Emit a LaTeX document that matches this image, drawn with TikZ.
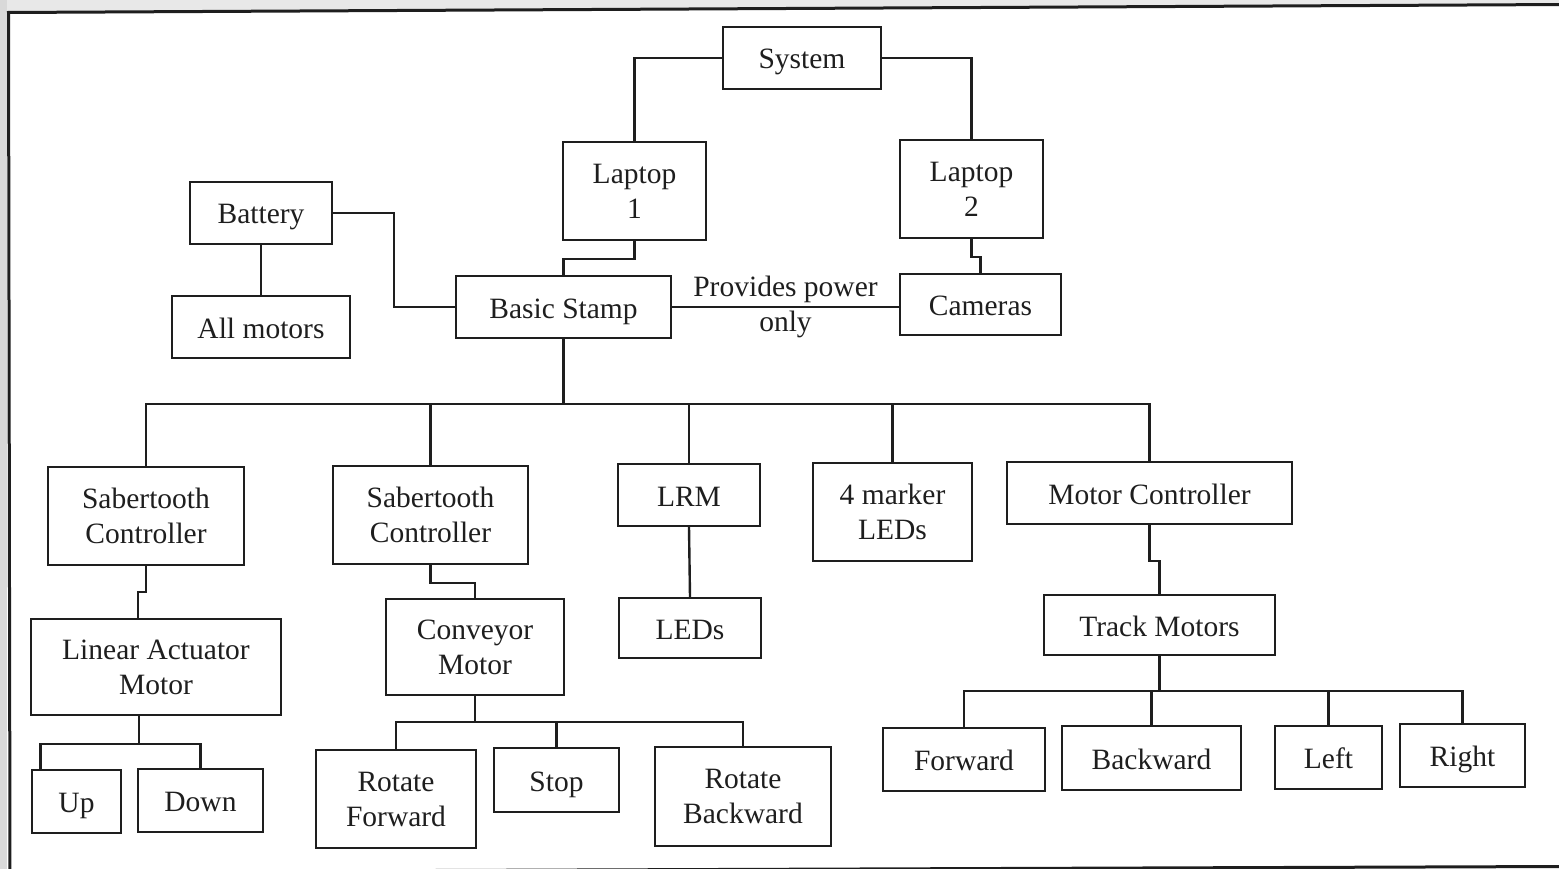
\documentclass[tikz,border=0pt]{standalone}
\usepackage{fontspec}
\setmainfont{Liberation Serif}
\usetikzlibrary{calc}
\definecolor{ink}{HTML}{1E1E1E}
\begin{document}
\begin{tikzpicture}[x=1pt,y=-1pt,
  bx/.style={draw=ink, line width=2.4pt, inner sep=0pt, align=center,
    text=ink, font=\fontsize{29.5}{35}\selectfont},
  one/.style={bx, text height=22pt, text depth=0pt},
  lbl/.style={inner sep=0pt, align=center, text=ink,
    font=\fontsize{29.5}{35}\selectfont},
  wire/.style={draw=ink, line width=2.4pt}]
\useasboundingbox (0,0) rectangle (1559,869);
% scanned page edge and outer frame
\fill[gray!30] (0,0) rectangle (7,869);
\fill[gray!18] (7,0) -- (1559,0) -- (1559,4) -- (7,12) -- cycle;
\draw[ink, line width=3pt] (1565,4.5) -- (8.5,12.5) -- (10,875);
\draw[ink, line width=3pt] (10,872) -- (1565,866.5);

% boxes
\node[one, minimum width=158, minimum height=62] (sys)   at (802,58)      {System};
\node[bx,  minimum width=143, minimum height=98] (lap1)  at (634.5,191)   {Laptop\\1};
\node[bx,  minimum width=143, minimum height=98] (lap2)  at (971.5,189)   {Laptop\\2};
\node[one, minimum width=142, minimum height=62] (bat)   at (261,213)     {Battery};
\node[one, minimum width=178, minimum height=62] (allm)  at (261,327)     {All motors};
\node[one, minimum width=215, minimum height=62] (stamp) at (563.5,307)   {Basic Stamp};
\node[one, minimum width=161, minimum height=61] (cam)   at (980.5,304.5) {Cameras};
\node[bx,  minimum width=196, minimum height=98] (sab1)  at (146,516)     {Sabertooth\\Controller};
\node[bx,  minimum width=195, minimum height=98] (sab2)  at (430.5,515)   {Sabertooth\\Controller};
\node[one, minimum width=142, minimum height=62] (lrm)   at (689,495)     {LRM};
\node[bx,  minimum width=159, minimum height=98] (mk)    at (892.5,512)   {4 marker\\LEDs};
\node[one, minimum width=285, minimum height=62] (mc)    at (1149.5,493)  {Motor Controller};
\node[bx,  minimum width=250, minimum height=96] (lam)   at (156,667)     {Linear Actuator\\Motor};
\node[bx,  minimum width=178, minimum height=96] (conv)  at (475,647)     {Conveyor\\Motor};
\node[one, minimum width=142, minimum height=60] (leds)  at (690,628)     {LEDs};
\node[one, minimum width=231, minimum height=60] (track) at (1159.5,625)  {Track Motors};
\node[one, minimum width=89,  minimum height=63] (up)    at (76.5,801.5)  {Up};
\node[one, minimum width=125, minimum height=63] (down)  at (200.5,800.5) {Down};
\node[bx,  minimum width=160, minimum height=98] (rf)    at (396,799)     {Rotate\\Forward};
\node[one, minimum width=125, minimum height=64] (stop)  at (556.5,780)   {Stop};
\node[bx,  minimum width=176, minimum height=99] (rb)    at (743,796.5)   {Rotate\\Backward};
\node[one, minimum width=162, minimum height=63] (fw)    at (964,759.5)   {Forward};
\node[one, minimum width=179, minimum height=64] (bw)    at (1151.5,758)  {Backward};
\node[one, minimum width=107, minimum height=63] (tleft) at (1328.5,757.5){Left};
\node[one, minimum width=125, minimum height=63] (tright) at (1462.5,755.5){Right};

% top level
\draw[wire] (sys.west) -| (lap1.north);
\draw[wire] (sys.east) -| (lap2.north);
\draw[wire] (lap1.south) -- ++(0,18) -| (stamp.north);
\draw[wire] (lap2.south) -- ++(0,18) -| (cam.north);
\draw[wire] (bat.east) -- ++(61,0) |- (stamp.west);
\draw[wire] (bat.south) -- (allm.north);
\draw[wire] (stamp.east) -- (stamp.east -| cam.west)
  node[lbl, midway] {Provides power\\only};

% Basic Stamp bus
\draw[wire] (stamp.south) -- ++(0,65) coordinate (sj);
\draw[wire] (sab1.north) |- (sj) -| (mc.north);
\draw[wire] (sab2.north) -- (sab2.north |- sj);
\draw[wire] (lrm.north) -- (lrm.north |- sj);
\draw[wire] (mk.north) -- (mk.north |- sj);

% second level
\draw[wire] (sab1.south) -- ++(0,26) -| ($(lam.north)+(-18,0)$);
\draw[wire] (sab2.south) -- ++(0,18) -| (conv.north);
\draw[wire] (lrm.south) -- (leds.north);
\draw[wire] (mc.south) -- ++(0,36) -| (track.north);

% linear actuator outputs
\draw[wire] ($(lam.south)+(-17,0)$) -- ++(0,28) coordinate (lj);
\draw[wire] ($(up.north)+(-36,0)$) |- (lj) -| (down.north);

% conveyor outputs
\draw[wire] (conv.south) -- ++(0,26) coordinate (cj);
\draw[wire] (rf.north) |- (cj) -| (rb.north);
\draw[wire] (stop.north) -- (stop.north |- cj);

% track motor outputs
\draw[wire] (track.south) -- ++(0,35) coordinate (tj);
\draw[wire] (fw.north) |- (tj) -| (tright.north);
\draw[wire] (bw.north) -- (bw.north |- tj);
\draw[wire] (tleft.north) -- (tleft.north |- tj);
\end{tikzpicture}
\end{document}
